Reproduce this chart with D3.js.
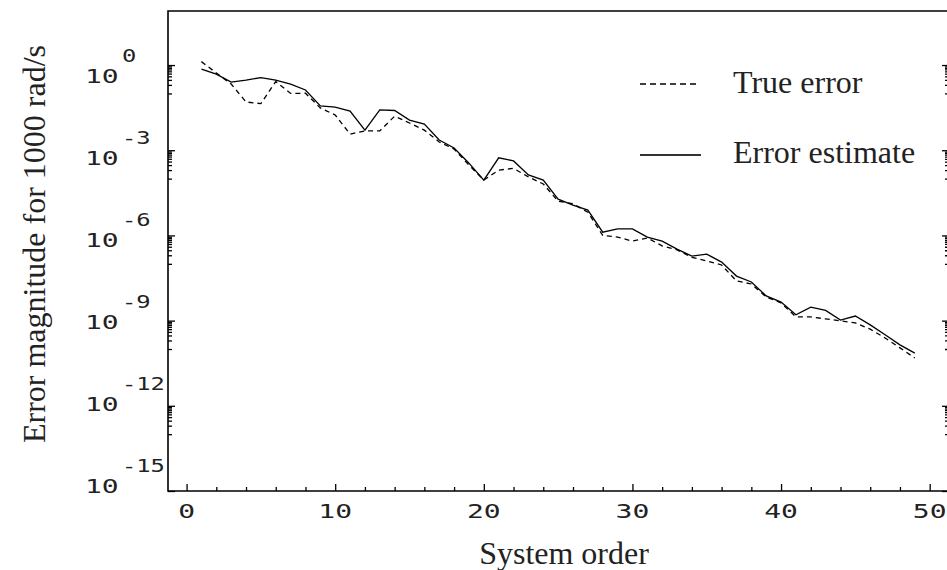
<!DOCTYPE html>
<html>
<head>
<meta charset="utf-8">
<script src="https://cdn.jsdelivr.net/npm/d3@7"></script>
<style>
    body { margin: 0; background: #fff; }
    svg { display: block; }
</style>
</head>
<body>
<div id="chart"></div>
<script>
//Datos
const orders = [1,2,3,4,5,6,7,8,9,10,11,12,13,14,15,16,17,18,19,20,21,22,23,24,25,
    26,27,28,29,30,31,32,33,34,35,36,37,38,39,40,41,42,43,44,45,46,47,48,49];

const trueError = [1.32, 0.525, 0.214, 0.050, 0.0437, 0.263, 0.100, 0.102, 0.0309, 0.0174,
    3.7e-3, 4.8e-3, 4.8e-3, 0.0158, 9.1e-3, 5.1e-3, 1.95e-3, 1.1e-3, 3.0e-4, 8.9e-5,
    2.0e-4, 2.3e-4, 1.15e-4, 6.5e-5, 1.6e-5, 1.3e-5, 6.6e-6, 1.0e-6, 8.7e-7, 6.3e-7,
    8.1e-7, 4.3e-7, 3.1e-7, 1.7e-7, 1.26e-7, 9.1e-8, 2.5e-8, 1.95e-8, 6.8e-9, 4.2e-9,
    1.35e-9, 1.35e-9, 1.15e-9, 9.8e-10, 8.3e-10, 5.0e-10, 2.45e-10, 1.1e-10, 4.8e-11];

const errorEstimate = [0.72, 0.48, 0.25, 0.295, 0.363, 0.295, 0.214, 0.132, 0.0363, 0.0331,
    0.024, 5.1e-3, 0.0263, 0.0251, 0.0115, 8.3e-3, 2.3e-3, 1.2e-3, 3.5e-4, 8.9e-5,
    5.4e-4, 4.2e-4, 1.35e-4, 8.9e-5, 1.9e-5, 1.17e-5, 7.8e-6, 1.3e-6, 1.7e-6, 1.7e-6,
    8.7e-7, 6.3e-7, 3.3e-7, 1.86e-7, 2.2e-7, 1.15e-7, 3.7e-8, 2.3e-8, 7.4e-9, 4.5e-9,
    1.6e-9, 3.0e-9, 2.3e-9, 1.05e-9, 1.45e-9, 7.1e-10, 3.2e-10, 1.4e-10, 7.2e-11];

const xTicks = [0, 10, 20, 30, 40, 50];
const xMinorTicks = [2, 4, 6, 8, 12, 14, 16, 18, 22, 24, 26, 28, 32, 34, 36, 38, 42, 44, 46, 48];
const yExponents = [0, -3, -6, -9, -12, -15];
const yExponentLabels = ['0', '-3', '-6', '-9', '-12', '-15'];
const minorFactors = [1, 2, 3, 4, 5, 6, 7, 8, 9];
const legendLabels = ['True error', 'Error estimate'];

//Lienzo
let width = 947, height = 570;
let frame = {left: 168, right: 949, top: 11, bottom: 491};

let svg = d3.select('#chart')
    .append('svg')
        .attr('width', width)
        .attr('height', height);

let x = d3.scaleLinear()
    .domain([-1.25, 51.3])
    .range([frame.left, frame.right]);

let y = d3.scaleLog()
    .domain([1e-15, 80])
    .range([frame.bottom, frame.top]);

//Posición vertical de las etiquetas del eje Y (no coinciden del todo con las marcas)
let yLabel = d3.scaleLinear()
    .domain([0, -15])
    .range([83, 493]);

let yMajor = yExponents.map(function(e) { return Math.pow(10, e); });
let yMinor = [];
yExponents.forEach(function(e) {
    minorFactors.forEach(function(m) {
        let v = m * Math.pow(10, e - 1);
        if (v >= 1e-15) { yMinor.push(v); }
    });
});

function cleanAxis(g) {
    g.select('.domain').remove();
    g.selectAll('.tick line').attr('stroke', '#000').attr('stroke-width', 1.3);
}

//Marcas de los ejes (hacia dentro)
svg.append('g')
    .attr('transform', 'translate(' + frame.left + ',0)')
    .call(d3.axisLeft(y).tickValues(yMajor).tickSize(-7).tickFormat(''))
    .call(cleanAxis);
svg.append('g')
    .attr('transform', 'translate(' + frame.left + ',0)')
    .call(d3.axisLeft(y).tickValues(yMinor).tickSize(-4).tickFormat(''))
    .call(cleanAxis);
svg.append('g')
    .attr('transform', 'translate(' + frame.right + ',0)')
    .call(d3.axisRight(y).tickValues(yMajor).tickSize(-7).tickFormat(''))
    .call(cleanAxis);
svg.append('g')
    .attr('transform', 'translate(' + frame.right + ',0)')
    .call(d3.axisRight(y).tickValues(yMinor).tickSize(-4).tickFormat(''))
    .call(cleanAxis);
svg.append('g')
    .attr('transform', 'translate(0,' + frame.bottom + ')')
    .call(d3.axisBottom(x).tickValues(xTicks).tickSize(-7).tickFormat(''))
    .call(cleanAxis);
svg.append('g')
    .attr('transform', 'translate(0,' + frame.bottom + ')')
    .call(d3.axisBottom(x).tickValues(xMinorTicks).tickSize(-4).tickFormat(''))
    .call(cleanAxis);

//Marco
svg.append('path')
    .attr('d', 'M' + frame.right + ',' + frame.top + 'H' + frame.left + 'V' + frame.bottom + 'H' + frame.right + 'Z')
    .attr('fill', 'none')
    .attr('stroke', '#000')
    .attr('stroke-width', 1.6);

//Etiquetas eje X
svg.append('g')
    .selectAll('g')
    .data(xTicks)
    .enter()
    .append('g')
    .attr('transform', function(d) { return 'translate(' + x(d) + ',518) scale(1.4,1)'; })
    .append('text')
    .attr('text-anchor', 'middle')
    .attr('font-family', 'DejaVu Sans Mono')
    .attr('font-size', '20px')
    .attr('fill', '#222')
    .text(function(d) { return d; });

//Etiquetas eje Y (10 elevado)
let yl = svg.append('g')
    .selectAll('g')
    .data(yExponents)
    .enter()
    .append('g')
    .attr('transform', function(d) { return 'translate(85,' + yLabel(d) + ') scale(1.4,1)'; });

yl.append('text')
    .attr('font-family', 'DejaVu Sans Mono')
    .attr('font-size', '20px')
    .attr('fill', '#222')
    .text('10');

yl.append('text')
    .attr('x', 26.4)
    .attr('y', -21)
    .attr('font-family', 'DejaVu Sans Mono')
    .attr('font-size', '17px')
    .attr('fill', '#222')
    .text(function(d, i) { return yExponentLabels[i]; });

//Títulos
svg.append('text')
    .attr('x', 564)
    .attr('y', 564)
    .attr('text-anchor', 'middle')
    .attr('font-family', 'Liberation Serif')
    .attr('font-size', '32px')
    .attr('fill', '#222')
    .text('System order');

svg.append('text')
    .attr('transform', 'translate(45,244) rotate(-90)')
    .attr('text-anchor', 'middle')
    .attr('font-family', 'Liberation Serif')
    .attr('font-size', '32px')
    .attr('fill', '#222')
    .text('Error magnitude for 1000 rad/s');

//Líneas
let line = d3.line()
    .x(function(d, i) { return x(orders[i]); })
    .y(function(d) { return y(d); });

svg.append('path')
    .datum(trueError)
    .attr('d', line)
    .attr('fill', 'none')
    .attr('stroke', '#000')
    .attr('stroke-width', 1.3)
    .attr('stroke-dasharray', '5,4');

svg.append('path')
    .datum(errorEstimate)
    .attr('d', line)
    .attr('fill', 'none')
    .attr('stroke', '#000')
    .attr('stroke-width', 1.3);

//Leyenda
let legend = svg.append('g');

legend.append('line')
    .attr('x1', 640).attr('x2', 700)
    .attr('y1', 84).attr('y2', 84)
    .attr('stroke', '#000')
    .attr('stroke-width', 1.3)
    .attr('stroke-dasharray', '6,4');

legend.append('line')
    .attr('x1', 640).attr('x2', 701)
    .attr('y1', 155).attr('y2', 155)
    .attr('stroke', '#333')
    .attr('stroke-width', 1.8);

legend.selectAll('text')
    .data(legendLabels)
    .enter()
    .append('text')
    .attr('x', 733)
    .attr('y', function(d, i) { return i == 0 ? 93 : 163; })
    .attr('font-family', 'Liberation Serif')
    .attr('font-size', '32px')
    .attr('fill', '#222')
    .text(function(d) { return d; });
</script>
</body>
</html>
